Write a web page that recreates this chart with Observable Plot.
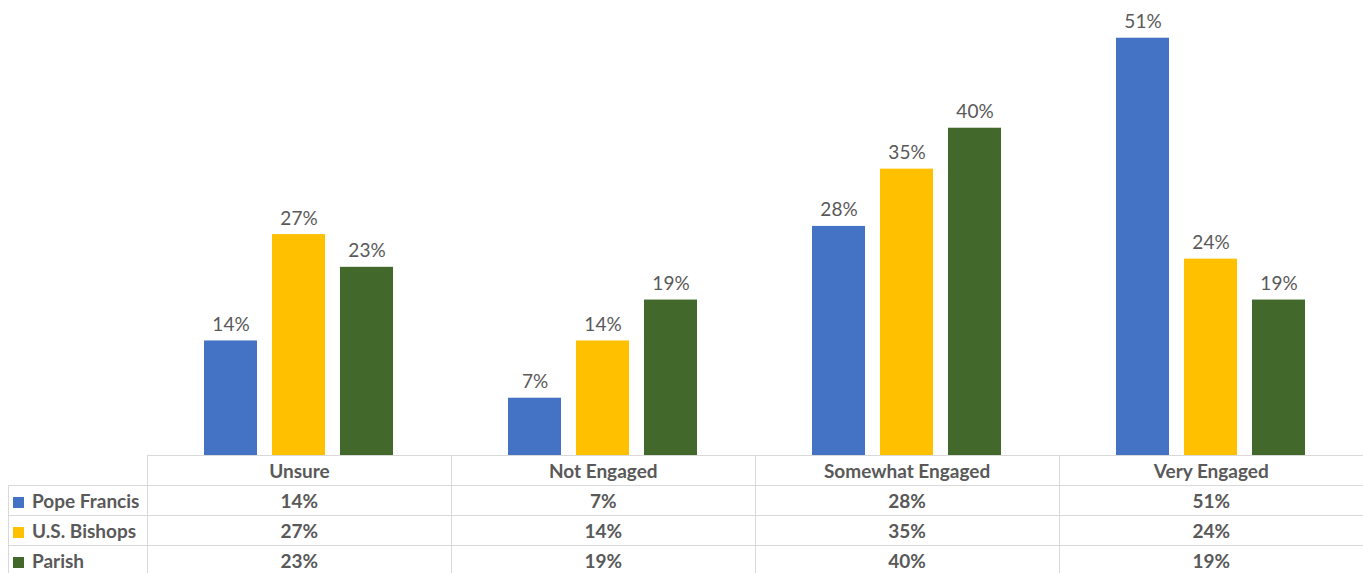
<!DOCTYPE html>
<html>
<head>
<meta charset="utf-8">
<script src="https://cdn.jsdelivr.net/npm/d3@7"></script>
<script src="https://cdn.jsdelivr.net/npm/@observablehq/plot@0.6"></script>
<style>
  html, body { margin: 0; padding: 0; background: #fff; }
  #chart svg { display: block; }
  table.dt { border-collapse: collapse; font-family: Lato, "Open Sans", sans-serif; font-weight: bold; font-size: 19px; color: #595959; table-layout: fixed; margin-left: 8px; }
  table.dt td { height: 29px; padding: 0; border: 1px solid #d9d9d9; text-align: center; white-space: nowrap; overflow: hidden; line-height: 20px; }
  table.dt td.lab { text-align: left; padding-left: 4px; }
  table.dt td.empty { border: none; border-bottom: 1px solid #d9d9d9; }
  table.dt td.last { border-right: none; }
  .sw { display: inline-block; width: 11px; height: 11px; margin-right: 8px; vertical-align: 0px; }
</style>
</head>
<body>
<div id="chart"></div>
<div id="table"></div>
<script>
const categories = ["Unsure", "Not Engaged", "Somewhat Engaged", "Very Engaged"];
const series = ["Pope Francis", "U.S. Bishops", "Parish"];
const popeFrancis = [14, 7, 28, 51];
const usBishops = [27, 14, 35, 24];
const parish = [23, 19, 40, 19];
const colors = ["#4472C4", "#FFC000", "#43682B"];

const seriesValues = [popeFrancis, usBishops, parish];
const data = [];
categories.forEach((c, i) => {
  series.forEach((s, j) => {
    data.push({category: c, series: s, value: seriesValues[j][i]});
  });
});

const chart = Plot.plot({
  width: 1363,
  height: 455,
  marginLeft: 147,
  marginRight: 0,
  marginTop: 5,
  marginBottom: 0,
  style: {fontFamily: "Lato, 'Open Sans', sans-serif", background: "white"},
  fx: {domain: categories, padding: 0, axis: null},
  x: {domain: series, paddingInner: 0.22, paddingOuter: 0.845, axis: null},
  y: {domain: [0, 55], axis: null},
  color: {domain: series, range: colors},
  marks: [
    Plot.barY(data, {fx: "category", x: "series", y: "value", fill: "series"}),
    Plot.text(data, {fx: "category", x: "series", y: "value", text: d => d.value + "%", lineAnchor: "bottom", dy: -10, fill: "#595959", fontSize: 19})
  ]
});
document.getElementById("chart").appendChild(chart);

// data table
const tbl = document.createElement("table");
tbl.className = "dt";
const colg = document.createElement("colgroup");
[139, 304, 304, 304, 304].forEach(w => { const c = document.createElement("col"); c.style.width = w + "px"; colg.appendChild(c); });
tbl.appendChild(colg);
const hr = document.createElement("tr");
const e = document.createElement("td"); e.className = "empty"; e.style.borderLeft = "none"; e.style.borderTop = "none"; hr.appendChild(e);
categories.forEach((c, i) => { const td = document.createElement("td"); td.textContent = c; td.style.borderTop = "1px solid #d9d9d9"; if (i === 3) td.className = "last"; hr.appendChild(td); });
tbl.appendChild(hr);
series.forEach((s, j) => {
  const tr = document.createElement("tr");
  const th = document.createElement("td"); th.className = "lab";
  const sw = document.createElement("span"); sw.className = "sw"; sw.style.background = colors[j];
  th.appendChild(sw); th.appendChild(document.createTextNode(s));
  tr.appendChild(th);
  categories.forEach((c, i) => { const td = document.createElement("td"); td.textContent = seriesValues[j][i] + "%"; if (i === 3) td.className = "last"; tr.appendChild(td); });
  tbl.appendChild(tr);
});
document.getElementById("table").appendChild(tbl);
</script>
</body>
</html>
